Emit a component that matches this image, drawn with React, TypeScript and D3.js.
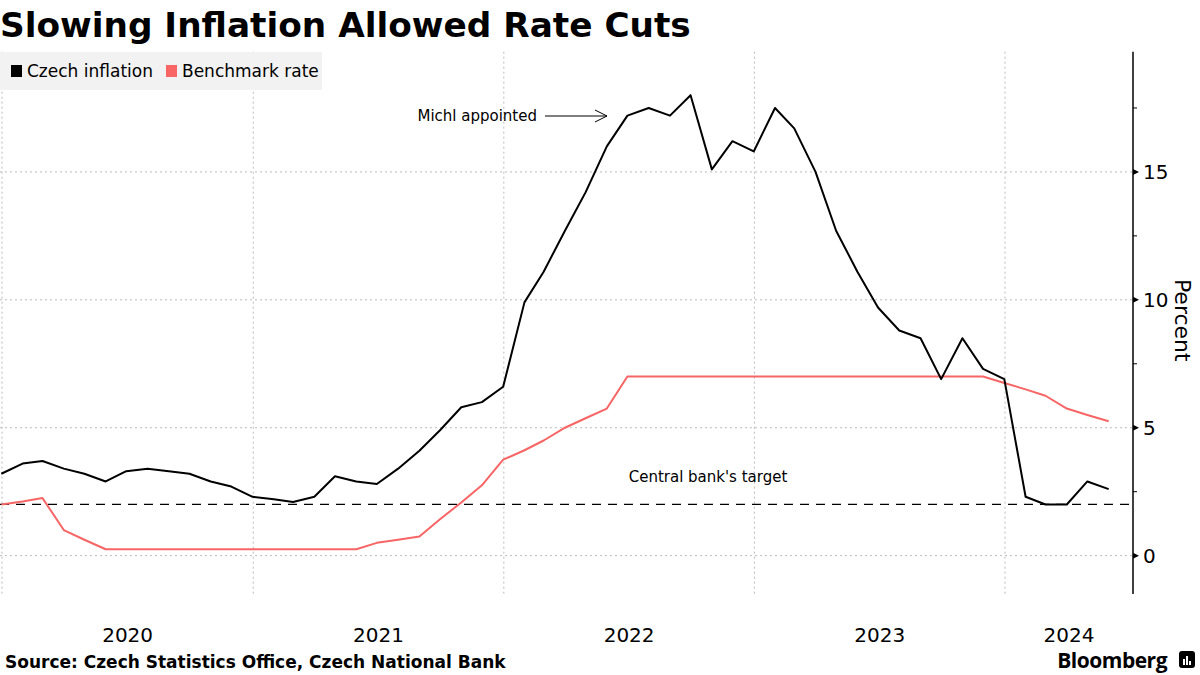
import React, { useEffect } from 'react';
import * as d3 from 'd3';

// monthly observations, Dec 2019 .. May 2024
const startMonth = '2019-12';
const inflation = [
  3.2,
  3.6, 3.7, 3.4, 3.2, 2.9, 3.3, 3.4, 3.3, 3.2, 2.9, 2.7, 2.3,
  2.2, 2.1, 2.3, 3.1, 2.9, 2.8, 3.4, 4.1, 4.9, 5.8, 6.0, 6.6,
  9.9, 11.1, 12.7, 14.2, 16.0, 17.2, 17.5, 17.2, 18.0, 15.1, 16.2, 15.8,
  17.5, 16.7, 15.0, 12.7, 11.1, 9.7, 8.8, 8.5, 6.9, 8.5, 7.3, 6.9,
  2.3, 2.0, 2.0, 2.9, 2.6,
];
const benchmarkRate = [
  2.0,
  2.12, 2.25, 1.0, 0.62, 0.25, 0.25, 0.25, 0.25, 0.25, 0.25, 0.25, 0.25,
  0.25, 0.25, 0.25, 0.25, 0.25, 0.5, 0.62, 0.75, 1.42, 2.08, 2.75, 3.75,
  4.12, 4.5, 5.0, 5.37, 5.75, 7.0, 7.0, 7.0, 7.0, 7.0, 7.0, 7.0,
  7.0, 7.0, 7.0, 7.0, 7.0, 7.0, 7.0, 7.0, 7.0, 7.0, 7.0, 6.75,
  6.5, 6.25, 5.75, 5.5, 5.25,
];
const yearTicks = [2020, 2021, 2022, 2023, 2024];
const majorTicks = [0, 5, 10, 15];
const minorTicks = [2.5, 7.5, 12.5, 17.5];
const targetRate = 2;

const seriesNames = ['Czech inflation', 'Benchmark rate'];
const colors = ['#000000', '#f76565'];

const W = 1200;
const H = 675;
const font = '"DejaVu Sans", Verdana, sans-serif';

// each value is plotted at the end of its month
const start = d3.timeParse('%Y-%m')(startMonth) as Date;
const dates = inflation.map((_, i) => d3.timeDay.offset(d3.timeMonth.offset(start, i + 1), -1));

const xScale = d3.scaleTime()
  .domain([new Date(2020, 0, 1), new Date(2024, 0, 1)])
  .range([2, 1005]);
const yScale = d3.scaleLinear()
  .domain([-1.5, 19.7])
  .range([594, 556 - 19.7 * 25.6]);

const plotLeft = 0;
const plotRight = 1133;
const plotTop = yScale(19.7);
const plotBottom = yScale(-1.5);

const line = d3.line<number>()
  .x((_, i) => xScale(dates[i]))
  .y(d => yScale(d));

const App: React.FC = () => {
  useEffect(() => {
    document.body.style.margin = '0';
  }, []);

  const yearMid = (y: number) => {
    const a = xScale(new Date(y, 0, 1));
    const b = Math.min(xScale(new Date(y + 1, 0, 1)), plotRight);
    return (a + b) / 2;
  };

  const arrowY = 116;

  return (
    <svg width={W} height={H} style={{ display: 'block', background: '#fff' }} fontFamily={font}>
      {/* title */}
      <text x={0} y={37} fontSize={34.3} fontWeight="bold" fill="#000">
        Slowing Inflation Allowed Rate Cuts
      </text>

      {/* grid */}
      {majorTicks.map(t => (
        <line key={'h' + t} x1={plotLeft} x2={plotRight} y1={yScale(t)} y2={yScale(t)}
          stroke="#bbb" strokeWidth={1} strokeDasharray="2,3" />
      ))}
      {yearTicks.map(y => (
        <line key={'v' + y} x1={xScale(new Date(y, 0, 1))} x2={xScale(new Date(y, 0, 1))}
          y1={plotTop} y2={plotBottom} stroke="#bbb" strokeWidth={1} strokeDasharray="2,3" />
      ))}

      {/* legend */}
      <rect x={0} y={52} width={322} height={38} fill="#f2f2f2" />
      <rect x={11} y={65} width={11} height={12} fill={colors[0]} />
      <text x={27} y={77} fontSize={17} fill="#000">{seriesNames[0]}</text>
      <rect x={166} y={65} width={11} height={12} fill={colors[1]} />
      <text x={182} y={77} fontSize={17} fill="#000">{seriesNames[1]}</text>

      {/* target */}
      <line x1={plotLeft} x2={plotRight} y1={yScale(targetRate)} y2={yScale(targetRate)}
        stroke="#000" strokeWidth={1.2} strokeDasharray="9,7" />
      <text x={708} y={482} fontSize={15} textAnchor="middle" fill="#000">Central bank's target</text>

      {/* series */}
      <path d={line(benchmarkRate) ?? ''} fill="none" stroke={colors[1]} strokeWidth={2} strokeLinejoin="round" />
      <path d={line(inflation) ?? ''} fill="none" stroke={colors[0]} strokeWidth={2} strokeLinejoin="round" />

      {/* annotation */}
      <text x={537} y={121} fontSize={15} textAnchor="end" fill="#000">Michl appointed</text>
      <line x1={545} x2={607} y1={arrowY} y2={arrowY} stroke="#000" strokeWidth={1} />
      <polyline points={`595,${arrowY - 6} 607,${arrowY} 595,${arrowY + 6}`} fill="none" stroke="#000" strokeWidth={1} />

      {/* right axis */}
      <line x1={plotRight} x2={plotRight} y1={plotTop} y2={plotBottom} stroke="#000" strokeWidth={1.5} />
      {majorTicks.map(t => (
        <g key={'t' + t}>
          <path d={`M${plotRight},${yScale(t) - 3}L${plotRight + 6},${yScale(t)}L${plotRight},${yScale(t) + 3}Z`} fill="#000" />
          <text x={plotRight + 10} y={yScale(t) + 7} fontSize={20} fill="#000">{t}</text>
        </g>
      ))}
      {minorTicks.map(t => (
        <line key={'m' + t} x1={plotRight} x2={plotRight + 4} y1={yScale(t)} y2={yScale(t)} stroke="#000" strokeWidth={1} />
      ))}
      <text transform={`translate(1175,${yScale(9.2)}) rotate(90)`} fontSize={22} textAnchor="middle" fill="#000">
        Percent
      </text>

      {/* x labels */}
      {yearTicks.map(y => (
        <text key={'y' + y} x={yearMid(y)} y={642} fontSize={20} textAnchor="middle" fill="#000">{y}</text>
      ))}

      {/* footer */}
      <text x={5} y={668} fontSize={17} fontWeight="bold" fill="#000">
        Source: Czech Statistics Office, Czech National Bank
      </text>
      <text x={1167} y={668} fontSize={21} fontWeight="bold" textAnchor="end" fill="#000"
        fontFamily='"Open Sans", sans-serif' letterSpacing={-0.5}>Bloomberg</text>
      <rect x={1179} y={651} width={16} height={17} rx={3} fill="#000" />
      <rect x={1183} y={659} width={2} height={6} fill="#fff" />
      <rect x={1186} y={656} width={2} height={9} fill="#fff" />
      <rect x={1189} y={661} width={2} height={4} fill="#fff" />
    </svg>
  );
};

export default App;
